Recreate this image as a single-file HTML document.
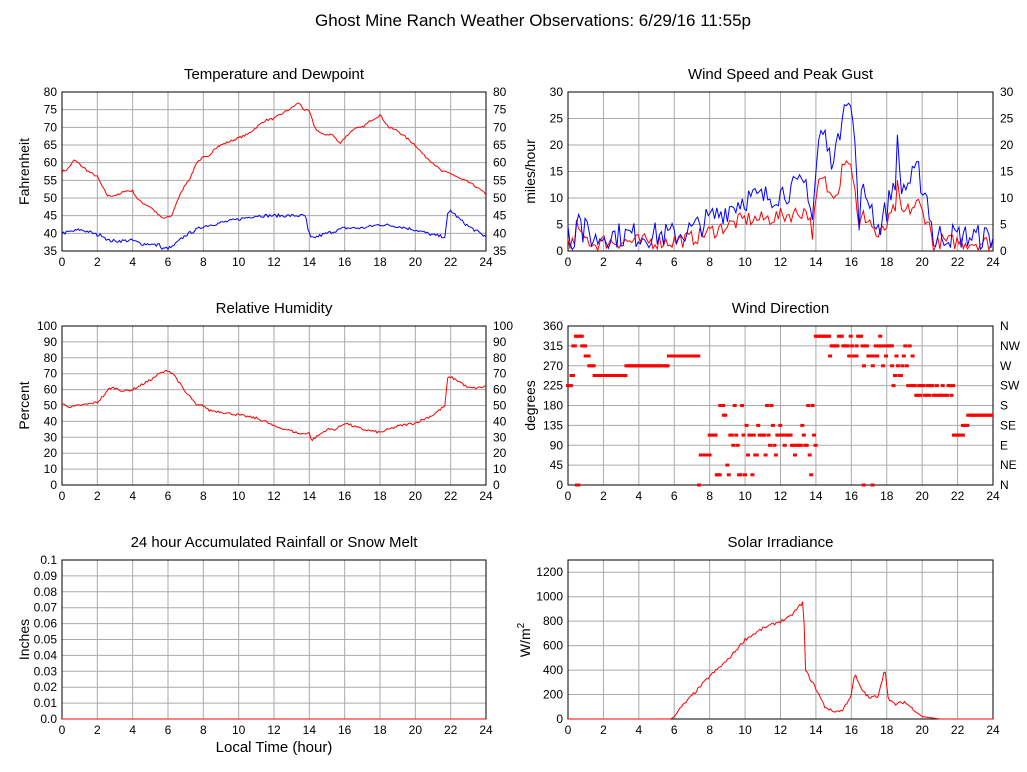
<!DOCTYPE html>
<html><head><meta charset="utf-8"><style>
html,body{margin:0;padding:0;background:#fff;}
svg{display:block;font-family:"Liberation Sans",sans-serif;}
</style></head><body>
<svg id="s" width="1027" height="772" xmlns="http://www.w3.org/2000/svg"></svg>
<script>
var s=document.getElementById('s');var out='';
var seed=7;function rnd(){seed=(seed*16807)%2147483647;return seed/2147483647;}
function interp(k,t){for(var i=0;i<k.length-1;i++){if(t>=k[i][0]&&t<=k[i+1][0]){var f=(t-k[i][0])/(k[i+1][0]-k[i][0]||1);return k[i][1]+f*(k[i+1][1]-k[i][1]);}}return k[k.length-1][1];}
function P(x0,x1,y0,y1,mn,mx,step,fmt,right,title,ylab){
 var o={x0:x0,x1:x1,y0:y0,y1:y1,mn:mn,mx:mx};
 o.X=function(h){return x0+(x1-x0)*h/24;};o.Y=function(v){return y1-(y1-y0)*(v-mn)/(mx-mn);};
 for(var v=mn;v<=mx+1e-9;v+=step){var y=o.Y(v);out+='<line x1="'+x0+'" x2="'+x1+'" y1="'+y+'" y2="'+y+'" stroke="#aaa"/>';
  out+='<text x="'+(x0-5)+'" y="'+(y+4)+'" font-size="12" text-anchor="end">'+fmt(v)+'</text>';
  if(right)out+='<text x="'+(x1+7)+'" y="'+(y+4)+'" font-size="12">'+(typeof right=='function'?right(v):fmt(v))+'</text>';}
 for(var h=0;h<=24;h+=2){var x=o.X(h);out+='<line x1="'+x+'" x2="'+x+'" y1="'+y0+'" y2="'+y1+'" stroke="#aaa"/>';
  out+='<text x="'+x+'" y="'+(y1+15)+'" font-size="12" text-anchor="middle">'+h+'</text>';}
 out+='<rect x="'+x0+'" y="'+y0+'" width="'+(x1-x0)+'" height="'+(y1-y0)+'" fill="none" stroke="#000"/>';
 out+='<text x="'+((x0+x1)/2)+'" y="'+(y0-13)+'" font-size="15" text-anchor="middle">'+title+'</text>';
 var cy=(y0+y1)/2;out+='<text transform="translate('+(x0-33)+','+cy+') rotate(-90)" font-size="14" text-anchor="middle">'+ylab+'</text>';
 return o;}
function line(o,k,col,noise,n,clampmin,rel){var pts=[];n=n||288;for(var i=0;i<=n;i++){var h=24*i/n;var b=interp(k,h);var v=b+(rnd()-0.5)*noise*(rel?Math.min(1,b/100):1);if(clampmin!==undefined&&v<clampmin)v=clampmin;pts.push(o.X(h).toFixed(1)+','+o.Y(v).toFixed(1));}
 out+='<polyline points="'+pts.join(' ')+'" fill="none" stroke="'+col+'" stroke-width="1"/>';}
function id(v){return ''+v;}
out+='<text x="533" y="26" font-size="17" text-anchor="middle">Ghost Mine Ranch Weather Observations: 6/29/16 11:55p</text>';
var T=P(62,486,92,251,35,80,5,id,true,'Temperature and Dewpoint','Fahrenheit');
line(T,[[0,57.5],[0.3,58],[0.7,60.8],[1,59.5],[1.5,57.5],[2,56],[2.3,53],[2.6,50.5],[3,50.8],[3.3,51],[3.5,52],[4,52],[4.3,49.5],[4.6,48.5],[5,47.5],[5.5,45],[5.7,44.2],[6.2,44.8],[6.5,49],[7,54],[7.3,56],[7.6,60],[8,61.5],[8.3,61.5],[8.6,64],[9,65],[9.5,66],[10,67],[10.5,68],[11,70],[11.5,72],[12,72.5],[12.5,74],[13,75.5],[13.4,77],[13.7,75],[14,74.5],[14.3,70],[14.7,68],[15.3,68],[15.7,65.5],[16,67],[16.5,69.5],[17,70],[17.5,72],[18,73.5],[18.5,70],[19,69],[19.5,67],[20,65],[20.5,62],[21,60],[21.5,57.5],[22,57],[22.5,55.5],[23,54.5],[23.5,53],[24,51]],'#f00',0.6);
line(T,[[0,40],[0.5,40.5],[1,41],[1.5,40.5],[2,39.5],[2.3,39.5],[2.6,38],[3,37.8],[4,38],[4.5,37],[5,37],[5.4,36.5],[5.5,37.5],[5.6,35.5],[6.2,36],[7,39.5],[8,42],[9,43],[10,44],[11,45],[12,45],[13,45],[13.8,45],[13.9,41],[14,40],[14.1,38.5],[15,40],[16,41.5],[17,41.5],[18,42.5],[19,42],[20,41],[21,39.5],[21.7,39],[21.8,45],[22,46.5],[22.5,44],[23,42],[24,39]],'#00f',0.9);
var W=P(568,993,92,251,0,30,5,id,true,'Wind Speed and Peak Gust','miles/hour');
var gk=[[0,4],[0.4,1],[0.5,9],[0.6,8],[0.8,3],[1,4],[1.5,2],[2,3],[3,3],[4,3],[5,3],[6,3],[7,4],[7.5,5],[8,6],[8.5,7],[9,8],[9.5,9],[10,10],[11,10],[12,11],[13,12],[13.5,13],[13.8,6],[14,15],[14.2,22],[14.5,22],[14.8,17],[15,19],[15.3,20],[15.5,28],[15.7,30],[16,26],[16.2,21],[16.4,5],[16.6,11],[17,10],[17.5,4],[18,8],[18.5,14],[18.6,20],[18.8,12],[19,12],[19.8,15],[20,12],[20.3,10],[20.7,1],[21,3],[24,2.5]];
var ak=gk.map(function(p){return [p[0],p[1]*0.6];});
line(W,ak,'#f00',3,200,0);
line(W,gk,'#00f',5,200,0);
var R=P(62,486,326,485,0,100,10,id,true,'Relative Humidity','Percent');
line(R,[[0,51],[0.5,49],[1,50],[2,52],[2.5,58],[2.7,61],[3,61],[3.5,59],[4,60],[4.5,63],[5,66],[5.5,70],[6,72],[6.3,70],[6.6,65],[7,58],[7.3,55],[7.6,50],[8,50],[8.3,47],[9,46],[10,44],[11,42],[11.5,40],[12,37],[13,34],[13.5,32],[14,33],[14.1,28],[14.5,31],[15,35],[15.5,35],[16,39],[16.5,37],[17,35],[18,33],[18.5,35],[19,37],[20,39],[21,44],[21.7,50],[21.8,67],[22,68],[22.5,65],[23,61],[23.5,61],[24,62]],'#f00',1.5);
var dn={0:'N',45:'NE',90:'E',135:'SE',180:'S',225:'SW',270:'W',315:'NW',360:'N'};
var D=P(568,993,326,485,0,360,45,id,function(v){return dn[v];},'Wind Direction','degrees');
function dots(a,b,vals){for(var h=a;h<=b;h+=0.083){var v=vals[Math.floor(rnd()*vals.length)];out+='<rect x="'+(D.X(h)-2).toFixed(1)+'" y="'+(D.Y(v)-1.5).toFixed(1)+'" width="4" height="3" fill="#f00"/>';}}
dots(0,0.2,[225]);dots(0.2,0.3,[248]);dots(0.3,0.45,[315]);dots(0.45,0.8,[337]);dots(0.5,0.6,[0]);dots(0.8,1,[315]);dots(1,1.2,[292]);dots(1.2,1.5,[270]);dots(1.5,3.3,[248]);dots(3.3,5.7,[270]);dots(5.7,7.4,[292]);dots(7.4,7.45,[0]);dots(7.5,8,[68]);dots(8,8.4,[113]);dots(8.4,8.6,[23]);dots(8.6,8.8,[180]);dots(8.8,8.9,[158]);
dots(9,14,[68,90,113,113,135,68,90,113,180,45,23]);dots(14,14.8,[337]);dots(14.8,16.3,[315,315,315,337,292]);dots(16.3,18.3,[315,292,270,337,315]);dots(16.7,16.75,[0]);dots(17.2,17.25,[0]);dots(18.3,19.5,[225,248,270,292,315,203]);dots(19.5,21.8,[225,225,203]);dots(21.8,22.3,[113]);dots(22.3,22.6,[135]);dots(22.6,24,[158]);
var RA=P(62,486,560,719,0,0.1,0.01,function(v){return (Math.round(v*100)/100)==0?'0.0':(Math.round(v*100)/100).toString();},false,'24 hour Accumulated Rainfall or Snow Melt','Inches');
out+='<line x1="62" x2="486" y1="719" y2="719" stroke="#f00"/>';
out+='<text x="274" y="752" font-size="15" text-anchor="middle">Local Time (hour)</text>';
var S=P(568,993,560,719,0,1300,200,id,false,'Solar Irradiance','');
out+='<text transform="translate(530,640) rotate(-90)" font-size="14" text-anchor="middle">W/m<tspan font-size="10" dy="-6">2</tspan></text>';
line(S,[[0,0],[5.8,0],[6,20],[6.3,80],[8,350],[9,480],[10,650],[11,740],[12,800],[12.5,830],[13.3,960],[13.4,400],[14,250],[14.5,100],[15,60],[15.5,70],[16,200],[16.2,370],[16.5,260],[17,170],[17.5,190],[17.9,410],[18.1,150],[18.5,120],[19,140],[19.5,80],[20,20],[21,0],[24,0]],'#f00',25,288,0,true);
s.innerHTML=out;
</script>
</body></html>
